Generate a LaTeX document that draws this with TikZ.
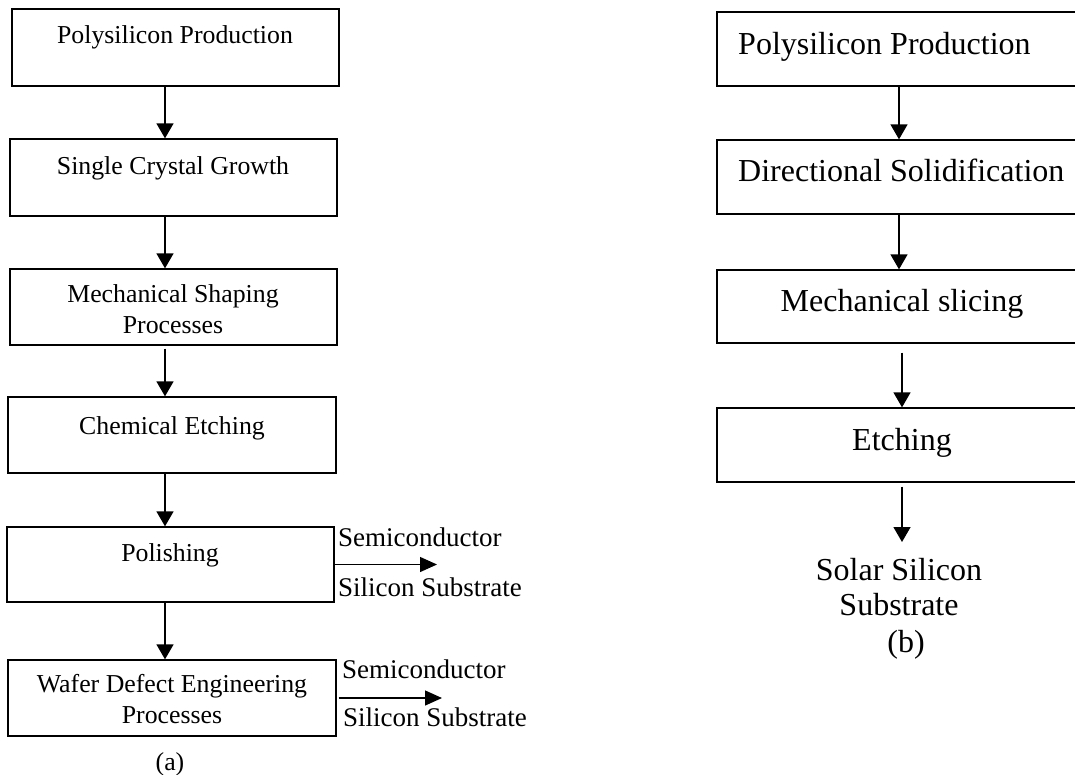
\documentclass[tikz,border=0pt]{standalone}
\usepackage{fontspec}
\setmainfont{Liberation Serif}
\usetikzlibrary{arrows.meta}
\newcommand\twolines[2]{\begin{tabular}[t]{@{}c@{}}#1\\#2\end{tabular}}
\begin{document}
\begin{tikzpicture}[x=1pt,y=-1pt,
 box/.style={draw, line width=1.3pt, inner sep=0pt},
 arr/.style={line width=1.4pt, -{Triangle[length=15pt,width=17pt]}},
 lt/.style={anchor=base, inner sep=0pt, font=\fontsize{25.8}{31}\selectfont},
 rt/.style={anchor=base, inner sep=0pt, font=\fontsize{32}{35}\selectfont},
 st/.style={anchor=base west, inner sep=0pt, font=\fontsize{27}{31}\selectfont}]
\useasboundingbox (0,0) rectangle (1075,775);
\clip (0,0) rectangle (1075,775);
% left column boxes
\node[box, minimum width=327pt, minimum height=77pt] (a1) at (175.5,47.5) {};
\node[box, minimum width=327pt, minimum height=77pt] (a2) at (173.5,177.5) {};
\node[box, minimum width=327pt, minimum height=76pt] (a3) at (173.5,307) {};
\node[box, minimum width=328pt, minimum height=76pt] (a4) at (172,435) {};
\node[box, minimum width=327pt, minimum height=75pt] (a5) at (170.5,564.5) {};
\node[box, minimum width=328pt, minimum height=76pt] (a6) at (172,698) {};
% left texts
\node[lt] (t1) at (175,44) {Polysilicon Production};
\node[lt] (t2) at (173,175) {Single Crystal Growth};
\node[lt] (t3) at (173,302) {\twolines{Mechanical Shaping}{Processes}};
\node[lt] (t4) at (172,434) {Chemical Etching};
\node[lt] (t5) at (170,561) {Polishing};
\node[lt] (t6) at (172,692) {\twolines{Wafer Defect Engineering}{Processes}};
\node[lt] (la) at (170,770) {(a)};
% left arrows
\coordinate (ax) at (165,0);
\draw[arr] (a1.south -| ax) -- (a2.north -| ax);
\draw[arr] (a2.south -| ax) -- (a3.north -| ax);
\draw[arr] ([yshift=-3pt]a3.south -| ax) -- (a4.north -| ax);
\draw[arr] (a4.south -| ax) -- (a5.north -| ax);
\draw[arr] (a5.south -| ax) -- (a6.north -| ax);
% side outputs
\coordinate (s1) at (437,564.5);
\coordinate (s2) at (442,698);
\draw[line width=1.3pt, -{Triangle[length=17pt,width=15pt]}] (a5.east) -- (s1);
\draw[line width=1.3pt, -{Triangle[length=17pt,width=15pt]}, shorten <=2pt] (a6.east) -- (s2);
\node[st] (s1a) at (338,546) {Semiconductor};
\node[st] (s1b) at (338,596) {Silicon Substrate};
\node[st] (s2a) at (342,678) {Semiconductor};
\node[st] (s2b) at (343,726) {Silicon Substrate};
% right column boxes
\node[box, minimum width=363pt, minimum height=74pt] (b1) at (898.5,49) {};
\node[box, minimum width=363pt, minimum height=74pt] (b2) at (898.5,177) {};
\node[box, minimum width=363pt, minimum height=73pt] (b3) at (898.5,306.5) {};
\node[box, minimum width=363pt, minimum height=74pt] (b4) at (898.5,445) {};
% right texts
\node[rt, anchor=base west] (u1) at (738,55) {Polysilicon Production};
\node[rt, anchor=base west] (u2) at (738,182) {Directional Solidification};
\node[rt] (u3) at (902,312) {Mechanical slicing};
\node[rt] (u4) at (902,450) {Etching};
\node[rt] (sol) at (899,580) {\twolines{Solar Silicon}{Substrate}};
\node[rt] (lb) at (906,652) {(b)};
% right arrows
\coordinate (bx) at (899,0);
\coordinate (cx) at (902,0);
\coordinate (e4) at (902,542);
\draw[arr] (b1.south -| bx) -- (b2.north -| bx);
\draw[arr] (b2.south -| bx) -- (b3.north -| bx);
\draw[arr] ([yshift=-9pt]b3.south -| cx) -- (b4.north -| cx);
\draw[arr] ([yshift=-4pt]b4.south -| cx) -- (e4);
\end{tikzpicture}
\end{document}
